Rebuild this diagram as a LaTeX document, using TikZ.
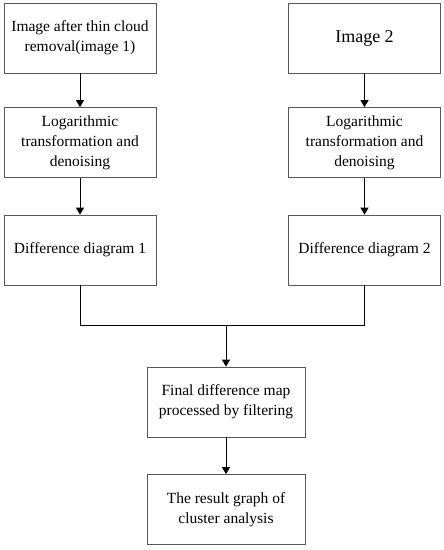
\documentclass[tikz,border=0pt]{standalone}
\usepackage{fontspec}
\setmainfont{Liberation Serif}
\usetikzlibrary{arrows.meta,positioning}
\begin{document}
\begin{tikzpicture}[x=1pt,y=-1pt,
  every node/.style={font=\fontsize{15.5}{20}\selectfont},
  stepbox/.style={draw=black!65,line width=0.8pt,align=center,minimum width=152pt,minimum height=70pt,inner sep=2pt},
  flow/.style={-{Triangle[width=8pt,length=7pt]},line width=1pt}]
\useasboundingbox (0,0) rectangle (444,550);
% left branch
\node[stepbox] (img1) at (80,38) {Image after thin cloud\\removal(image 1)};
\node[stepbox] (log1) at (80,142.5) {Logarithmic\\transformation and\\denoising};
\node[stepbox] (dif1) at (80,250) {Difference diagram 1};
% right branch
\node[stepbox,font=\fontsize{18}{21}\selectfont] (img2) at (364.5,38) {Image 2};
\node[stepbox] (log2) at (364.5,142.5) {Logarithmic\\transformation and\\denoising};
\node[stepbox] (dif2) at (364.5,250) {Difference diagram 2};
% merged part
\node[stepbox,minimum width=158pt] (final) at (226,402) {Final difference map\\processed by filtering};
\node[stepbox,minimum width=158pt] (result) at (226,509.5) {The result graph of\\cluster analysis};
\coordinate (join) at (226,325);
\foreach \a/\b in {img1/log1,log1/dif1,img2/log2,log2/dif2,final/result}
  \draw[flow] (\a) -- (\b);
\draw[line width=1pt] (dif1.south) -- (dif1.south |- join) -- (dif2.south |- join) -- (dif2.south);
\draw[flow] (join) -- (final);
\end{tikzpicture}
\end{document}
